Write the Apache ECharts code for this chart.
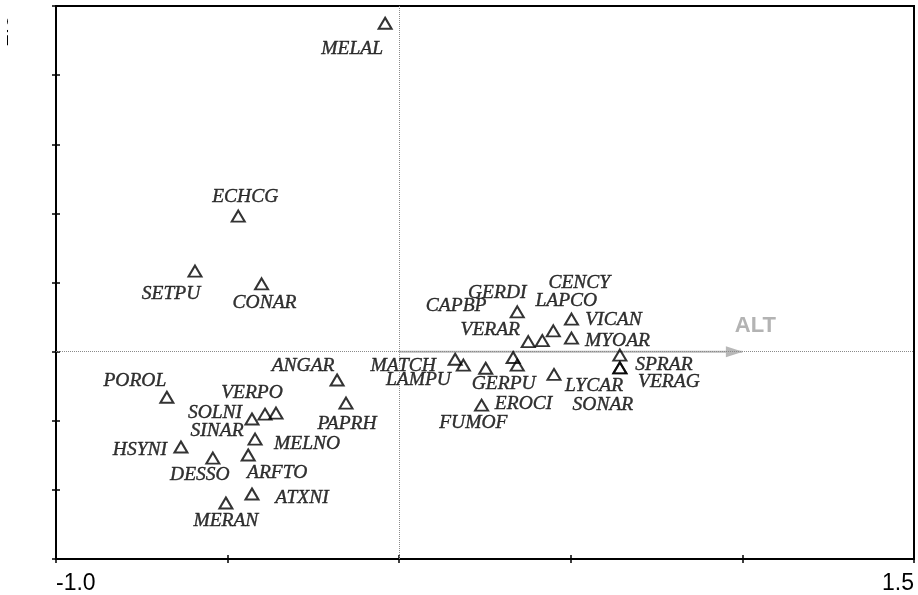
<!DOCTYPE html>
<html>
<head>
<meta charset="utf-8">
<title>Species and ALT ordination</title>
<script src="https://cdn.jsdelivr.net/npm/echarts@6/dist/echarts.min.js"></script>
<style>
  html, body { margin: 0; padding: 0; background: #fff; }
  #chart { width: 918px; height: 595px; }
</style>
</head>
<body>
<div id="chart"></div>
<script>
// Species scores on the first two ordination axes
const speciesNames = [
  'MELAL', 'ECHCG', 'SETPU', 'CONAR', 'POROL', 'HSYNI', 'DESSO', 'MERAN',
  'ATXNI', 'ARFTO', 'MELNO', 'SOLNI', 'SINAR', 'VERPO', 'ANGAR', 'PAPRH',
  'GERDI', 'CAPBP', 'VERAR', 'LAPCO', 'CENCY', 'VICAN', 'MYOAR', 'MATCH',
  'LAMPU', 'GERPU', 'FUMOF', 'LYCAR', 'EROCI', 'SPRAR', 'VERAG', 'SONAR'
];
const axis1Scores = [
  -0.041, -0.469, -0.595, -0.401, -0.677, -0.636, -0.543, -0.505,
  -0.429, -0.440, -0.420, -0.429, -0.391, -0.359, -0.181, -0.155,
   0.344,  0.332,  0.376,  0.417,  0.449,  0.502,  0.502,  0.163,
   0.187,  0.252,  0.344,  0.451,  0.240,  0.643,  0.643,  0.643
];
const axis2Scores = [
   0.950,  0.392,  0.233,  0.196, -0.132, -0.276, -0.308, -0.438,
  -0.412, -0.299, -0.253, -0.195, -0.181, -0.178, -0.082, -0.149,
   0.115, -0.017,  0.029,  0.032,  0.060,  0.094,  0.039, -0.022,
  -0.039, -0.048, -0.039, -0.066, -0.155, -0.010, -0.047, -0.047
];

// Environmental variable (arrow from the origin)
const envNames = ['ALT'];
const envAxis1 = [1.0];
const envAxis2 = [0.0];

// Tick values that carry a printed label
const xTickLabels = [-1.0, 1.5];
const yEdgeLabel = '1.0';

// Where each species name sits relative to its marker (pixels)
const labelOffsets = {
  MELAL: [-33, 26], ECHCG: [7, -19], SETPU: [-24, 23], CONAR: [3, 19],
  POROL: [-32, -16], HSYNI: [-41, 3], DESSO: [-13, 17], MERAN: [0, 18],
  ATXNI: [50, 4], ARFTO: [29, 18], MELNO: [52, 5], SOLNI: [-37, -6],
  SINAR: [-48, 17], VERPO: [-24, -20], ANGAR: [-34, -14], PAPRH: [1, 21],
  GERDI: [-20, -19], CAPBP: [-57, -52], VERAR: [-38, -12], LAPCO: [24, -40],
  CENCY: [26, -48], VICAN: [42, 1], MYOAR: [46, 3], MATCH: [-52, 7],
  LAMPU: [-45, 15], GERPU: [18, 16], FUMOF: [-44, 58], LYCAR: [40, 11],
  EROCI: [42, -1], SPRAR: [44, 10], VERAG: [49, 14], SONAR: [-17, 37]
};

const chart = echarts.init(document.getElementById('chart'), null, { renderer: 'canvas' });

const speciesData = speciesNames.map((name, i) => ({
  name: name,
  value: [axis1Scores[i], axis2Scores[i]]
}));

const envSeries = envNames.map((name, i) => ({
  type: 'line',
  silent: true,
  z: 3,
  data: [
    { value: [0, 0], symbol: 'none' },
    {
      name: name,
      value: [envAxis1[i], envAxis2[i]],
      symbol: 'triangle',
      symbolSize: [11, 17],
      symbolRotate: -90,
      symbolOffset: [-8, 0],
      label: {
        show: true,
        formatter: '{b}',
        position: 'inside',
        offset: [21, -26],
        fontFamily: 'Liberation Sans',
        fontWeight: 'bold',
        fontSize: 22,
        color: '#b3b3b3'
      }
    }
  ],
  lineStyle: { color: '#b8b8b8', width: 2 },
  itemStyle: { color: '#b8b8b8', borderWidth: 0 },
  emphasis: { disabled: true }
}));

const tickStyle = { color: '#000', width: 1.5 };

const option = {
  animation: false,
  backgroundColor: '#fff',
  grid: {
    left: 56, right: 4, top: 6, bottom: 36,
    show: true, borderColor: '#000', borderWidth: 2, backgroundColor: 'transparent'
  },
  xAxis: [
    {
      type: 'value', min: -1.0, max: 1.5, interval: 0.5, position: 'bottom',
      axisLine: { show: true, onZero: false, lineStyle: { color: '#000', width: 2 } },
      axisTick: { show: true, inside: false, length: 4, lineStyle: tickStyle },
      splitLine: { show: false },
      axisLabel: {
        show: true, margin: 13,
        fontFamily: 'Liberation Sans', fontSize: 23, color: '#000',
        alignMinLabel: 'left', alignMaxLabel: 'right',
        showMinLabel: true, showMaxLabel: true,
        formatter: v => xTickLabels.some(t => Math.abs(t - v) < 1e-9) ? v.toFixed(1) : ''
      }
    },
    {
      type: 'value', min: -1.0, max: 1.5, interval: 0.5, position: 'bottom',
      axisLine: { show: false, onZero: false },
      axisTick: { show: true, inside: true, length: 4, lineStyle: tickStyle },
      splitLine: { show: false },
      axisLabel: { show: false }
    }
  ],
  yAxis: [
    {
      type: 'value', min: -0.6, max: 1.0, interval: 0.2, position: 'left',
      axisLine: { show: true, onZero: false, lineStyle: { color: '#000', width: 2 } },
      axisTick: { show: true, inside: false, length: 4, lineStyle: tickStyle },
      splitLine: { show: false },
      axisLabel: { show: false }
    },
    {
      type: 'value', min: -0.6, max: 1.0, interval: 0.2, position: 'left',
      axisLine: { show: false, onZero: false },
      axisTick: { show: true, inside: true, length: 4, lineStyle: tickStyle },
      splitLine: { show: false },
      axisLabel: { show: false }
    }
  ],
  graphic: [
    {
      // vertical axis end value, running off the left edge of the page
      type: 'text',
      x: 2, y: 31,
      rotation: Math.PI / 2,
      silent: true,
      z: 10,
      style: {
        text: yEdgeLabel,
        font: '23px "Liberation Sans"',
        fill: '#000',
        align: 'center', verticalAlign: 'middle',
        textAlign: 'center', textVerticalAlign: 'middle'
      }
    },
    {
      type: 'rect',
      silent: true,
      z: 11,
      shape: { x: 0, y: 0, width: 7, height: 60 },
      style: { fill: '#fff' }
    }
  ],
  series: [
    {
      // dotted zero lines through the origin
      type: 'scatter',
      silent: true,
      z: 1,
      data: [],
      markLine: {
        silent: true,
        symbol: 'none',
        animation: false,
        label: { show: false },
        lineStyle: { type: [1, 1], color: '#8a8a8a', width: 1 },
        data: [{ xAxis: 0 }, { yAxis: 0 }]
      }
    },
    ...envSeries,
    {
      type: 'scatter',
      z: 5,
      symbol: 'triangle',
      symbolSize: [13, 11],
      itemStyle: { color: 'rgba(255,255,255,0)', borderColor: '#000', borderWidth: 2 },
      label: {
        show: true,
        position: 'inside',
        formatter: '{b}',
        fontFamily: 'Liberation Serif',
        fontStyle: 'italic',
        fontSize: 19.5,
        color: '#000',
        textBorderColor: '#000',
        textBorderWidth: 0.4
      },
      labelLayout: params => {
        const off = labelOffsets[speciesNames[params.dataIndex]] || [0, 0];
        return { dx: off[0], dy: off[1], hideOverlap: false };
      },
      emphasis: { disabled: true },
      data: speciesData
    }
  ]
};

chart.setOption(option);
</script>
</body>
</html>
